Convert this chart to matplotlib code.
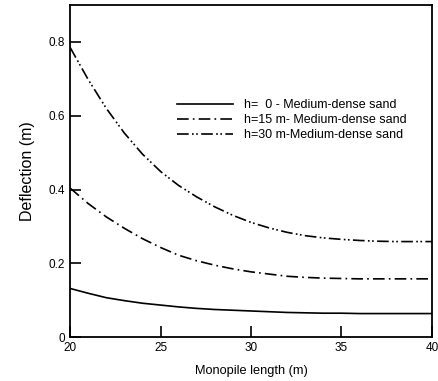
import matplotlib
matplotlib.use("Agg")
import matplotlib.pyplot as plt
from matplotlib.ticker import FuncFormatter

plt.rcParams['font.family'] = ['Liberation Sans', 'DejaVu Sans']

length = list(range(20, 41))
h0 = [0.132, 0.119, 0.107, 0.099, 0.092, 0.087, 0.082, 0.078, 0.075, 0.073, 0.071,
      0.069, 0.067, 0.066, 0.065, 0.065, 0.064, 0.064, 0.064, 0.064, 0.064]
h15 = [0.404, 0.362, 0.326, 0.295, 0.267, 0.243, 0.222, 0.207, 0.195, 0.185, 0.177,
       0.171, 0.165, 0.162, 0.160, 0.159, 0.158, 0.158, 0.158, 0.158, 0.158]
h30 = [0.785, 0.698, 0.620, 0.553, 0.496, 0.449, 0.411, 0.380, 0.353, 0.330, 0.311,
       0.296, 0.284, 0.275, 0.269, 0.265, 0.262, 0.260, 0.259, 0.259, 0.259]
labels = ["h=  0 - Medium-dense sand", "h=15 m- Medium-dense sand", "h=30 m-Medium-dense sand"]
xticks = [20, 25, 30, 35, 40]
yticks = [0, 0.2, 0.4, 0.6, 0.8]

fig = plt.figure(figsize=(4.38, 3.81), dpi=100)
ax = fig.add_axes([0.16, 0.115, 0.826, 0.872])
ax.plot(length, h0, color='black', lw=1.2, ls='-', label=labels[0])
ax.plot(length, h15, color='black', lw=1.2, ls=(0, (7, 2.5, 1, 2.5)), label=labels[1])
ax.plot(length, h30, color='black', lw=1.2, ls=(0, (7, 2, 1, 1.5, 1, 2)), label=labels[2])

ax.set_xlim(20, 40)
ax.set_ylim(0, 0.9)
ax.set_xticks(xticks)
ax.set_yticks(yticks)
ax.yaxis.set_major_formatter(FuncFormatter(lambda v, p: '0' if v == 0 else f'{v:.1f}'))
ax.tick_params(direction='in', length=8, width=1.2, labelsize=8.5, top=False, right=False)
for s in ax.spines.values():
    s.set_linewidth(1.3)
ax.set_xlabel('Monopile length (m)', fontsize=9.2, labelpad=8)
ax.set_ylabel('Deflection (m)', fontsize=11.5, labelpad=10)
leg = ax.legend(loc='upper left', bbox_to_anchor=(0.278, 0.735), frameon=False, fontsize=9.0,
                handlelength=4.5, handletextpad=0.85, labelspacing=0.25, borderpad=0)
fig.savefig('out.png', dpi=100)
